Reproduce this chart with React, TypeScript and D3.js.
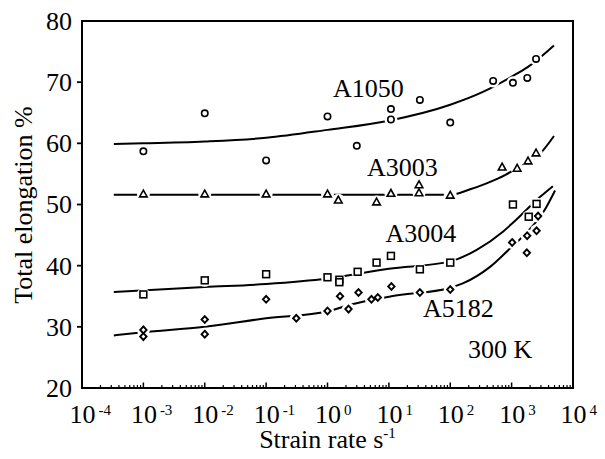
import React from "react";
import * as d3 from "d3";

// ---- data (strain rate s^-1, total elongation %) ----
const a1050Points: [number, number][] = [
  [1e-3, 58.7], [1e-2, 64.9], [1e-1, 57.2], [1, 64.4], [3, 59.6],
  [10.8, 65.6], [10.8, 63.9], [32, 67.1], [100, 63.4], [500, 70.2],
  [1050, 69.9], [1800, 70.7], [2500, 73.8],
];
const a1050Fit: [number, number][] = [
  [3.3e-4, 59.9], [1e-3, 60.0], [1e-2, 60.3], [0.1, 60.9], [1, 62.2],
  [10, 63.7], [100, 66.3], [340, 68.4], [1000, 70.9], [1850, 72.5], [4900, 76.0],
];

const a3003Points: [number, number][] = [
  [1e-3, 51.7], [1e-2, 51.7], [1e-1, 51.7], [1, 51.7], [1.5, 50.7],
  [6.3, 50.4], [10.8, 51.8], [31, 51.9], [31, 53.2], [100, 51.5],
  [700, 56.1], [1230, 55.9], [1850, 57.1], [2500, 58.4],
];
const a3003Fit: [number, number][] = [
  [3.3e-4, 51.6], [1, 51.6], [100, 51.6], [200, 52.4], [400, 53.5],
  [780, 54.8], [1380, 56.3], [2900, 58.3], [4900, 61.2],
];

const a3004Points: [number, number][] = [
  [1e-3, 35.3], [1e-2, 37.6], [1e-1, 38.6], [1, 38.1], [1.56, 37.7],
  [1.56, 37.3], [3.1, 39.0], [6.3, 40.5], [10.8, 41.6], [32, 39.4],
  [100, 40.5], [1050, 50.0], [1900, 48.0], [2550, 50.1],
];
const a3004Fit: [number, number][] = [
  [3.3e-4, 35.7], [1e-2, 36.5], [0.1, 37.0], [1, 37.9], [10, 39.5],
  [100, 40.7], [270, 42.6], [730, 45.6], [1050, 47.0], [2950, 51.3], [4700, 53.0],
];

const a5182Points: [number, number][] = [
  [1e-3, 29.5], [1e-3, 28.4], [1e-2, 31.2], [1e-2, 28.8], [0.1, 34.5],
  [0.31, 31.4], [1, 32.6], [1.6, 35.0], [2.2, 32.9], [3.2, 35.6],
  [5.2, 34.5], [6.6, 34.8], [11, 36.6], [32, 35.6], [100, 36.1],
  [1020, 43.8], [1770, 42.1], [1790, 44.9], [2550, 45.7], [2700, 48.1],
];
const a5182Fit: [number, number][] = [
  [3.3e-4, 28.6], [1e-3, 29.1], [1e-2, 30.0], [0.1, 31.4], [1, 32.5],
  [2.3, 33.6], [11, 35.0], [100, 36.4], [160, 37.1], [445, 39.8],
  [940, 42.8], [1500, 44.7], [3450, 49.1], [5100, 52.3],
];

const seriesNames = ["A1050", "A3003", "A3004", "A5182"];
const decadeExps = [-4, -3, -2, -1, 0, 1, 2, 3, 4];
const yTicks = [20, 30, 40, 50, 60, 70, 80];

const W = 605, H = 459;
const FONT = "'Liberation Serif', 'Times New Roman', serif";

export default function App() {
  const x = d3.scaleLog().domain([1e-4, 1e4]).range([82, 573]);
  const y = d3.scaleLinear().domain([20, 80]).range([388, 21]);
  const line = d3
    .line<[number, number]>()
    .x((d) => x(d[0]))
    .y((d) => y(d[1]))
    .curve(d3.curveMonotoneX);

  const series = [
    { name: seriesNames[0], pts: a1050Points, fit: a1050Fit, shape: "circle" },
    { name: seriesNames[1], pts: a3003Points, fit: a3003Fit, shape: "triangle" },
    { name: seriesNames[2], pts: a3004Points, fit: a3004Fit, shape: "square" },
    { name: seriesNames[3], pts: a5182Points, fit: a5182Fit, shape: "diamond" },
  ];

  const minorTicks: number[] = [];
  for (let e = -4; e < 4; e++) {
    for (let k = 2; k <= 9; k++) minorTicks.push(k * Math.pow(10, e));
  }

  const marker = (shape: string, cx: number, cy: number, key: string) => {
    const sw = 1.6;
    if (shape === "circle")
      return <circle key={key} cx={cx} cy={cy} r={3.2} fill="white" stroke="black" strokeWidth={sw} />;
    if (shape === "square")
      return <rect key={key} x={cx - 3.4} y={cy - 3.4} width={6.8} height={6.8} fill="white" stroke="black" strokeWidth={sw} />;
    if (shape === "triangle")
      return (
        <path key={key} d={`M${cx},${cy - 4} L${cx + 3.8},${cy + 2.8} L${cx - 3.8},${cy + 2.8} Z`}
          fill="white" stroke="black" strokeWidth={sw} />
      );
    return (
      <path key={key} d={`M${cx},${cy - 3.4} L${cx + 3.2},${cy} L${cx},${cy + 3.4} L${cx - 3.2},${cy} Z`}
        fill="white" stroke="black" strokeWidth={1.9} />
    );
  };

  const labels = [
    { t: "A1050", x: 333, y: 96.7 },
    { t: "A3003", x: 367, y: 176 },
    { t: "A3004", x: 385.5, y: 241.7 },
    { t: "A5182", x: 423, y: 316.7 },
    { t: "300 K", x: 468, y: 358.3 },
  ];

  return (
    <svg width={W} height={H} style={{ position: "fixed", left: 0, top: 0, background: "white" }}
      fontFamily={FONT}>
      <rect x={0} y={0} width={W} height={H} fill="white" />
      {/* fit curves */}
      {series.map((s) => (
        <path key={"fit" + s.name} d={line(s.fit) || ""} fill="none" stroke="black" strokeWidth={2} />
      ))}
      {/* white halos to break lines around markers */}
      {series.map((s) =>
        s.pts.map((p, i) => (
          <circle key={"h" + s.name + i} cx={x(p[0])} cy={y(p[1])} r={6.5} fill="white" />
        ))
      )}
      {series.map((s) => s.pts.map((p, i) => marker(s.shape, x(p[0]), y(p[1]), s.name + i)))}

      {/* frame */}
      <rect x={82} y={21} width={491} height={367} fill="none" stroke="black" strokeWidth={2} />

      {/* y ticks */}
      {yTicks.map((t) => (
        <g key={"yt" + t}>
          {t !== 20 && t !== 80 && (
            <line x1={77} x2={82} y1={y(t)} y2={y(t)} stroke="black" strokeWidth={1.8} />
          )}
          <text x={72} y={y(t)} dy="0.34em" textAnchor="end" fontSize={26}>
            {t}
          </text>
        </g>
      ))}

      {/* x ticks */}
      {minorTicks.map((t, i) => (
        <line key={"mn" + i} x1={x(t)} x2={x(t)} y1={388} y2={385} stroke="black" strokeWidth={1.2} />
      ))}
      {decadeExps.map((e) => (
        <g key={"xt" + e}>
          <line x1={x(Math.pow(10, e))} x2={x(Math.pow(10, e))} y1={388} y2={382.5} stroke="black" strokeWidth={1.5} />
          <text x={x(Math.pow(10, e)) - 12.5} y={423} fontSize={26}>
            10
            <tspan dx={3} dy={-8} fontSize={15}>
              {String(e)}
            </tspan>
          </text>
        </g>
      ))}

      {/* axis titles */}
      <text x={327.5} y={448} textAnchor="middle" fontSize={26}>
        Strain rate s
        <tspan dy={-10} fontSize={15}>-1</tspan>
      </text>
      <text transform="translate(32,205) rotate(-90)" textAnchor="middle" fontSize={26}>
        Total elongation %
      </text>

      {/* series labels */}
      {labels.map((l) => (
        <text key={l.t} x={l.x} y={l.y} fontSize={26}>
          {l.t}
        </text>
      ))}
    </svg>
  );
}
